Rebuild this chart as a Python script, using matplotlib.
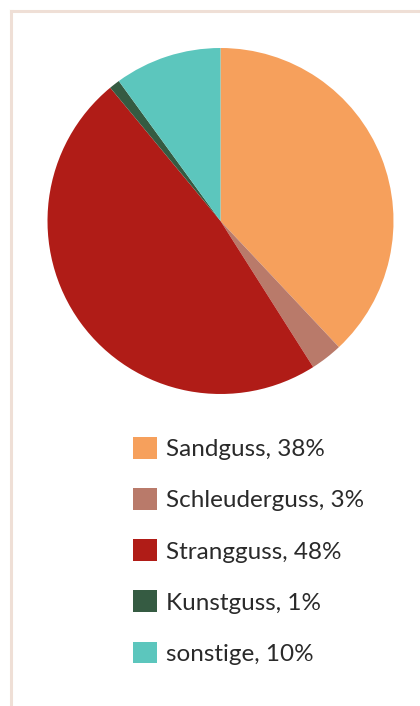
import matplotlib.pyplot as plt
from matplotlib.patches import Patch
from matplotlib.lines import Line2D

# Anteile der Gießverfahren
verfahren = ['Sandguss', 'Schleuderguss', 'Strangguss', 'Kunstguss', 'sonstige']
anteile = [38, 3, 48, 1, 10]
farben = ['#f6a05c', '#b97a6a', '#b01c17', '#355b42', '#5cc6bd']

plt.rcParams['font.family'] = ['Lato', 'DejaVu Sans']

fig = plt.figure(figsize=(4.2, 7.06), dpi=100)
fig.patch.set_facecolor('white')

# Rahmen oben und links
rahmen = '#efdfd6'
fig.add_artist(Line2D([10.5 / 420, 1], [1 - 10.5 / 706] * 2, color=rahmen, lw=2.2,
                      transform=fig.transFigure))
fig.add_artist(Line2D([10.5 / 420] * 2, [0, 1 - 10.5 / 706], color=rahmen, lw=2.2,
                      transform=fig.transFigure))

ax = fig.add_axes([47.5 / 420, 1 - 394 / 706, 346 / 420, 346 / 706])
ax.pie(anteile, colors=farben, startangle=90, counterclock=False,
       wedgeprops=dict(linewidth=0))
ax.set_xlim(-1, 1)
ax.set_ylim(-1, 1)
ax.set_aspect('equal')
ax.axis('off')

handles = [Patch(facecolor=c, edgecolor='none') for c in farben]
labels = [f'{v}, {a}%' for v, a in zip(verfahren, anteile)]
fig.legend(handles, labels, loc='upper left',
           bbox_to_anchor=(133 / 420, 1 - 437 / 706),
           frameon=False, fontsize=17.5, labelcolor='#2a2a2a',
           handlelength=1.0, handleheight=1.0, handletextpad=0.35,
           labelspacing=1.15, borderpad=0, borderaxespad=0)

fig.savefig('out.png', dpi=100)
